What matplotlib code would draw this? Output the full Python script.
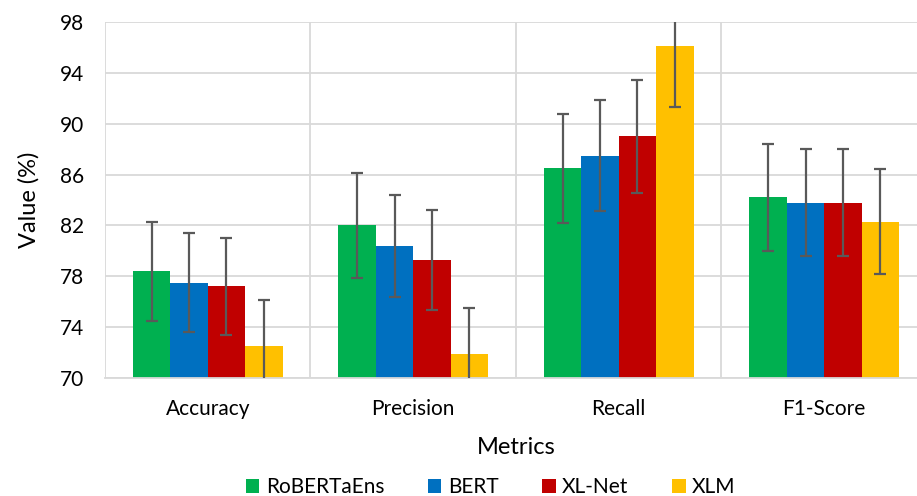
import numpy as np
import matplotlib.pyplot as plt

plt.rcParams['font.family'] = ['Lato', 'DejaVu Sans']

metrics = ['Accuracy', 'Precision', 'Recall', 'F1-Score']
models = ['RoBERTaEns', 'BERT', 'XL-Net', 'XLM']
colors = ['#00B050', '#0070C0', '#C00000', '#FFC000']

# mean values (%) per model, in metric order
roberta = [78.4, 82.0, 86.5, 84.2]
bert = [77.5, 80.4, 87.5, 83.8]
xlnet = [77.2, 79.3, 89.0, 83.8]
xlm = [72.5, 71.9, 96.1, 82.3]

# error bar half widths
roberta_err = [3.9, 4.1, 4.3, 4.2]
bert_err = [3.9, 4.0, 4.4, 4.2]
xlnet_err = [3.85, 3.95, 4.45, 4.2]
xlm_err = [3.6, 3.6, 4.8, 4.1]

values = [roberta, bert, xlnet, xlm]
errors = [roberta_err, bert_err, xlnet_err, xlm_err]

fig = plt.figure(figsize=(9.17, 4.96), dpi=100)
ax = fig.add_axes([0.1145, 0.2379, 0.8964, 0.7177])

x = np.arange(len(metrics))
width = 0.182
for i, (vals, errs) in enumerate(zip(values, errors)):
    pos = x + (i - 1.5) * width
    ax.bar(pos, vals, width, color=colors[i], label=models[i], zorder=2)
    ax.errorbar(pos, vals, yerr=errs, fmt='none', ecolor='#595959',
                elinewidth=1.6, capsize=4.5, capthick=1.6, zorder=3)

ax.set_ylim(70, 98)
ax.set_yticks(np.arange(70, 99, 4))
ax.set_xlim(-0.5, len(metrics) - 0.5)
ax.set_xticks(x)
ax.set_xticklabels(metrics)
ax.set_xticks(np.arange(-0.5, len(metrics), 1), minor=True)

ax.grid(axis='y', color='#D9D9D9', linewidth=1.3, zorder=0)
ax.grid(axis='x', which='minor', color='#D9D9D9', linewidth=1.3, zorder=0)
ax.grid(axis='x', which='major', visible=False)
ax.tick_params(axis='both', which='both', length=0, labelsize=15, colors='black')
ax.tick_params(axis='x', pad=15)
ax.tick_params(axis='y', pad=15)
for s in ['top', 'right', 'left']:
    ax.spines[s].set_visible(False)
ax.spines['bottom'].set_color('#D9D9D9')
ax.spines['bottom'].set_linewidth(1.3)

ax.set_ylabel('Value (%)', fontsize=17, labelpad=15)
ax.set_xlabel('Metrics', fontsize=17, labelpad=13)

fig.legend(loc='center', bbox_to_anchor=(0.535, 0.018), ncol=4,
           frameon=False, fontsize=15, handlelength=0.65, handleheight=0.65,
           handletextpad=0.3, columnspacing=2.1, borderpad=0)

fig.savefig('out.png', dpi=100)
